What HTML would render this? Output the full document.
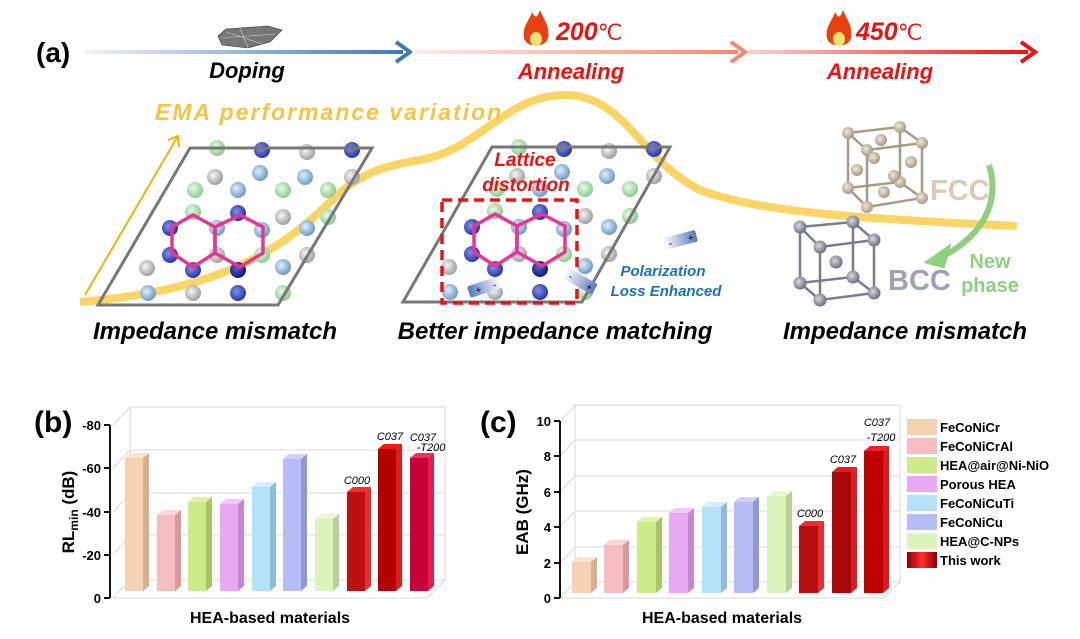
<!DOCTYPE html>
<html><head><meta charset="utf-8"><style>
html,body{margin:0;padding:0;background:#fff;}
svg{display:block;}
text{font-family:"Liberation Sans",sans-serif;}
.bi{font-weight:bold;font-style:italic;}
.b{font-weight:bold;}
</style></head><body>
<svg width="1080" height="639" viewBox="0 0 1080 639" xmlns="http://www.w3.org/2000/svg">
<defs>
<linearGradient id="g1" x1="0" x2="1"><stop offset="0" stop-color="#eef2f8"/><stop offset="1" stop-color="#3f78b8"/></linearGradient>
<linearGradient id="g2" x1="0" x2="1"><stop offset="0" stop-color="#fbeaea"/><stop offset="1" stop-color="#f68a6a"/></linearGradient>
<linearGradient id="g3" x1="0" x2="1"><stop offset="0" stop-color="#fbd0d0"/><stop offset="1" stop-color="#f01010"/></linearGradient>
<radialGradient id="ab" cx="0.4" cy="0.4" r="0.6"><stop offset="0" stop-color="#8090e8"/><stop offset="1" stop-color="#2836a8"/></radialGradient>
<radialGradient id="ad" cx="0.4" cy="0.4" r="0.6"><stop offset="0" stop-color="#5060c8"/><stop offset="1" stop-color="#0a1a80"/></radialGradient>
<radialGradient id="al" cx="0.4" cy="0.4" r="0.6"><stop offset="0" stop-color="#e0f0ff"/><stop offset="1" stop-color="#6e9cc0"/></radialGradient>
<radialGradient id="ag" cx="0.4" cy="0.4" r="0.6"><stop offset="0" stop-color="#eafaea"/><stop offset="1" stop-color="#8ccc8c"/></radialGradient>
<radialGradient id="ay" cx="0.4" cy="0.4" r="0.6"><stop offset="0" stop-color="#f6f6f6"/><stop offset="1" stop-color="#a0a0a0"/></radialGradient>
<radialGradient id="at" cx="0.4" cy="0.4" r="0.6"><stop offset="0" stop-color="#efe8dc"/><stop offset="1" stop-color="#a89a84"/></radialGradient>
<radialGradient id="ak" cx="0.4" cy="0.4" r="0.6"><stop offset="0" stop-color="#d8dae0"/><stop offset="1" stop-color="#6c7080"/></radialGradient>
<linearGradient id="dip" x1="0" x2="1"><stop offset="0" stop-color="#fff"/><stop offset="1" stop-color="#5a78c0"/></linearGradient>
<linearGradient id="tw" x1="0" x2="1"><stop offset="0" stop-color="#8a0000"/><stop offset="0.5" stop-color="#ff3030"/><stop offset="1" stop-color="#8a0000"/></linearGradient>
<g id="lat">
 <g stroke="none">
 <circle cx="217" cy="148" r="8" fill="url(#ag)"/><circle cx="262" cy="150" r="8" fill="url(#ab)"/><circle cx="307" cy="152" r="8" fill="url(#ay)"/><circle cx="352" cy="150" r="8" fill="url(#ab)"/>
 <circle cx="215" cy="177" r="8" fill="url(#ay)"/><circle cx="260" cy="173" r="8" fill="url(#al)"/><circle cx="305" cy="177" r="8" fill="url(#al)"/><circle cx="352" cy="177" r="8" fill="url(#ay)"/>
 <circle cx="195" cy="190" r="8" fill="url(#ag)"/><circle cx="238" cy="190" r="8" fill="url(#al)"/><circle cx="283" cy="190" r="8" fill="url(#ag)"/><circle cx="328" cy="190" r="8" fill="url(#ag)"/>
 <circle cx="193" cy="212" r="8" fill="url(#ag)"/><circle cx="238" cy="213" r="8" fill="url(#ab)"/><circle cx="283" cy="217" r="8" fill="url(#ay)"/><circle cx="328" cy="217" r="8" fill="url(#ag)"/>
 <circle cx="170" cy="228" r="8" fill="url(#ab)"/><circle cx="217" cy="228" r="8" fill="url(#al)"/><circle cx="262" cy="230" r="8" fill="url(#al)"/><circle cx="307" cy="228" r="8" fill="url(#al)"/>
 <circle cx="170" cy="255" r="8" fill="url(#ab)"/><circle cx="217" cy="255" r="8" fill="url(#ay)"/><circle cx="262" cy="255" r="8" fill="url(#ag)"/><circle cx="307" cy="255" r="8" fill="url(#ay)"/>
 <circle cx="147" cy="268" r="8" fill="url(#ay)"/><circle cx="193" cy="270" r="8" fill="url(#ab)"/><circle cx="238" cy="270" r="8" fill="url(#ad)"/><circle cx="283" cy="267" r="8" fill="url(#al)"/>
 <circle cx="148" cy="293" r="8" fill="url(#al)"/><circle cx="193" cy="293" r="8" fill="url(#ay)"/><circle cx="238" cy="293" r="8" fill="url(#ab)"/><circle cx="283" cy="293" r="8" fill="url(#ag)"/>
 </g>
 <g fill="none" stroke="#ea3590" stroke-width="3.5">
 <polygon points="193,215 215,227 215,253 193,267 172,253 172,227"/>
 <polygon points="240,215 263,227 263,253 240,267 215,253 215,227"/>
 </g>
</g>
<g id="atT"><circle r="6" fill="url(#at)"/></g>
<g id="atK"><circle r="6.5" fill="url(#ak)"/></g>
</defs>

<text x="36" y="62" class="b" font-size="28">(a)</text>
<rect x="85" y="50" width="318" height="4" fill="url(#g1)"/>
<path d="M396,42 L410,52 L396,62" fill="none" stroke="#3f78b8" stroke-width="4"/>
<rect x="412" y="50" width="326" height="4" fill="url(#g2)"/>
<path d="M731,42 L745,52 L731,62" fill="none" stroke="#f68a6a" stroke-width="4"/>
<rect x="748" y="50" width="280" height="4" fill="url(#g3)"/>
<path d="M1021,42 L1035,52 L1021,62" fill="none" stroke="#f01010" stroke-width="4"/>
<path d="M218,36 L226,29 L268,26 L282,30 L270,42 L248,48 L222,45 Z" fill="#777" stroke="#333" stroke-width="0.6"/>
<path d="M222,38 L275,34 M226,32 L262,44 M240,28 L248,48" stroke="#ccc" stroke-width="0.6"/>
<text x="247" y="78" class="bi" font-size="22" text-anchor="middle">Doping</text>
<g transform="translate(536,30)"><path d="M-12,8 C-14,-4 -6,-10 -4,-18 C0,-10 2,-14 4,-20 C8,-10 14,-4 12,8 C10,18 -10,18 -12,8 Z" fill="#e84010"/><ellipse cx="0" cy="9" rx="6" ry="7" fill="#ffe070"/></g>
<g transform="translate(839,30)"><path d="M-12,8 C-14,-4 -6,-10 -4,-18 C0,-10 2,-14 4,-20 C8,-10 14,-4 12,8 C10,18 -10,18 -12,8 Z" fill="#e84010"/><ellipse cx="0" cy="9" rx="6" ry="7" fill="#ffe070"/></g>
<text x="556" y="40" class="bi" font-size="25" fill="#f01010">200<tspan font-size="22" font-weight="normal" font-style="normal">℃</tspan></text>
<text x="856" y="40" class="bi" font-size="25" fill="#f01010">450<tspan font-size="22" font-weight="normal" font-style="normal">℃</tspan></text>
<text x="571" y="79" class="bi" font-size="22" fill="#f01010" text-anchor="middle">Annealing</text>
<text x="880" y="79" class="bi" font-size="22" fill="#f01010" text-anchor="middle">Annealing</text>
<text x="155" y="120" class="bi" font-size="23" fill="#f5c440" letter-spacing="2">EMA performance variation</text>

<path d="M80,302 C200,292 270,262 330,202 C360,172 385,166 420,160 C480,150 505,95 565,95 C625,95 640,160 700,190 C760,212 850,218 1017,226" fill="none" stroke="#f8c630" stroke-width="8" stroke-opacity="0.75"/>
<path d="M85,295 L178,136 M168,140 L178,136 L179,147" fill="none" stroke="#f5b000" stroke-width="2"/>

<use href="#lat"/>
<polygon points="190,148 372,148 278,305 98,305" fill="none" stroke="#777" stroke-width="3"/>
<use href="#lat" transform="translate(302,-1)"/>
<polygon points="492,147 670,147 582,302 403,302" fill="none" stroke="#777" stroke-width="3"/>
<rect x="442" y="200" width="135" height="103" fill="none" stroke="#f01010" stroke-width="3.5" stroke-dasharray="10,6"/>
<text x="525" y="166" class="bi" font-size="19" fill="#f01010" text-anchor="middle">Lattice</text>
<text x="526" y="191" class="bi" font-size="19" fill="#f01010" text-anchor="middle">distortion</text>
<g transform="translate(485,287) rotate(-18)"><rect x="-17" y="-6" width="34" height="12" rx="2" fill="url(#dip)" transform="scale(-1,1)"/><text x="-10" y="4" font-size="10">+</text><text x="8" y="4" font-size="10">-</text></g>
<g transform="translate(580,281) rotate(30)"><rect x="-17" y="-6" width="34" height="12" rx="2" fill="url(#dip)"/><text x="-12" y="4" font-size="10">-</text><text x="8" y="4" font-size="10">+</text></g>
<g transform="translate(680,240) rotate(-15)"><rect x="-17" y="-6" width="34" height="12" rx="2" fill="url(#dip)"/><text x="-12" y="4" font-size="10">-</text><text x="8" y="4" font-size="10">+</text></g>
<text x="663" y="276" class="bi" font-size="15" fill="#1a70c0" text-anchor="middle">Polarization</text>
<text x="666" y="296" class="bi" font-size="15" fill="#1a70c0" text-anchor="middle">Loss Enhanced</text>

<g stroke="#a89a84" stroke-width="2.5" fill="none">
<polygon points="848,133 900,127 900,182 848,188"/>
<polygon points="867,150 922,143 922,198 867,207"/>
<path d="M848,133 L867,150 M900,127 L922,143 M900,182 L922,198 M848,188 L867,207"/>
</g>
<g>
<use href="#atT" x="848" y="133"/><use href="#atT" x="900" y="127"/><use href="#atT" x="900" y="182"/><use href="#atT" x="848" y="188"/>
<use href="#atT" x="867" y="150"/><use href="#atT" x="922" y="143"/><use href="#atT" x="922" y="198"/><use href="#atT" x="867" y="207"/>
<use href="#atT" x="881" y="140"/><use href="#atT" x="857" y="170"/><use href="#atT" x="911" y="162"/><use href="#atT" x="884" y="192"/><use href="#atT" x="894" y="176"/><use href="#atT" x="874" y="158"/>
</g>
<text x="930" y="200" class="b" font-size="29" fill="#d9cbb6">FCC</text>
<g stroke="#7a7e8a" stroke-width="2.5" fill="none">
<polygon points="800,227 853,222 853,277 800,283"/>
<polygon points="820,247 874,240 874,293 820,300"/>
<path d="M800,227 L820,247 M853,222 L874,240 M853,277 L874,293 M800,283 L820,300"/>
</g>
<use href="#atK" x="800" y="227"/><use href="#atK" x="853" y="222"/><use href="#atK" x="853" y="277"/><use href="#atK" x="800" y="283"/>
<use href="#atK" x="820" y="247"/><use href="#atK" x="874" y="240"/><use href="#atK" x="874" y="293"/><use href="#atK" x="820" y="300"/>
<use href="#atK" x="836" y="262"/>
<text x="888" y="290" class="b" font-size="29" fill="#9ca2b4">BCC</text>
<path d="M989,165 C1000,200 985,235 940,258" fill="none" stroke="#8ed080" stroke-width="6"/>
<path d="M928,262 L948,248 L943,266 Z" fill="#8ed080" stroke="#8ed080" stroke-width="4"/>
<text x="990" y="268" class="b" font-size="20" fill="#8ed080" text-anchor="middle">New</text>
<text x="990" y="292" class="b" font-size="20" fill="#8ed080" text-anchor="middle">phase</text>

<text x="215" y="339" class="bi" font-size="24" text-anchor="middle">Impedance mismatch</text>
<text x="555" y="339" class="bi" font-size="24" text-anchor="middle">Better impedance matching</text>
<text x="905" y="339" class="bi" font-size="24" text-anchor="middle">Impedance mismatch</text>

<text x="34" y="432" class="b" font-size="30">(b)</text>
<g fill="none" stroke="#d8d8d8" stroke-width="1">
<path d="M130,407 L445,407 L445,580 M130,407 L130,580 L445,580 M113,598 L130,580 M427,598 L445,580 M113,598 L427,598"/>
<path d="M130,450 L445,450 M130,493 L445,493 M130,535 L445,535 M113,425 L130,407 M113,468 L130,450 M113,512 L130,493 M113,555 L130,535"/>
</g>
<path d="M110,425 L110,598 M104,425 L110,425 M104,468 L110,468 M104,512 L110,512 M104,555 L110,555 M104,598 L110,598" stroke="#111" stroke-width="2"/>
<g class="b" font-size="13" text-anchor="end">
<text x="101" y="430">-80</text><text x="101" y="473">-60</text><text x="101" y="517">-40</text><text x="101" y="560">-20</text><text x="101" y="603">0</text>
</g>
<text transform="translate(74,512) rotate(-90)" class="b" font-size="17" text-anchor="middle">RL<tspan font-size="12" dy="4">min</tspan><tspan dy="-4"> (dB)</tspan></text>
<text x="270" y="623" class="b" font-size="16" text-anchor="middle">HEA-based materials</text>

<text x="480" y="432" class="b" font-size="30">(c)</text>
<g fill="none" stroke="#d8d8d8" stroke-width="1">
<path d="M575,405 L900,405 L900,582 M575,405 L575,582 L900,582 M560,598 L575,582 M883,598 L900,582 M560,598 L883,598"/>
<path d="M575,440 L900,440 M575,476 L900,476 M575,511 L900,511 M575,547 L900,547 M560,421 L575,405 M560,456 L575,440 M560,492 L575,476 M560,527 L575,511 M560,563 L575,547"/>
</g>
<path d="M560,421 L560,598 M554,421 L560,421 M554,456 L560,456 M554,492 L560,492 M554,527 L560,527 M554,563 L560,563 M554,598 L560,598" stroke="#111" stroke-width="2"/>
<g class="b" font-size="13" text-anchor="end">
<text x="551" y="426">10</text><text x="551" y="461">8</text><text x="551" y="497">6</text><text x="551" y="532">4</text><text x="551" y="568">2</text><text x="551" y="603">0</text>
</g>
<text transform="translate(528,512) rotate(-90)" class="b" font-size="17" text-anchor="middle">EAB (GHz)</text>
<text x="722" y="623" class="b" font-size="16" text-anchor="middle">HEA-based materials</text>

<g>
<g><rect x="125" y="458" width="18" height="133" fill="#f6d2b2"/><polygon points="143,458 149,453 149,586 143,591" fill="#d8b090"/><polygon points="125,458 131,453 149,453 143,458" fill="#fae2cc"/></g>
<g><rect x="157" y="515" width="18" height="76" fill="#f7bcc0"/><polygon points="175,515 181,510 181,586 175,591" fill="#d8999d"/><polygon points="157,515 163,510 181,510 175,515" fill="#fbd4d6"/></g>
<g><rect x="188" y="502" width="18" height="89" fill="#cdea8a"/><polygon points="206,502 212,497 212,586 206,591" fill="#a8c468"/><polygon points="188,502 194,497 212,497 206,502" fill="#def3aa"/></g>
<g><rect x="220" y="504" width="18" height="87" fill="#e8a8f4"/><polygon points="238,504 244,499 244,586 238,591" fill="#c488d0"/><polygon points="220,504 226,499 244,499 238,504" fill="#f2c8f8"/></g>
<g><rect x="252" y="487" width="18" height="104" fill="#b6e2f8"/><polygon points="270,487 276,482 276,586 270,591" fill="#90bcd4"/><polygon points="252,487 258,482 276,482 270,487" fill="#d0eefc"/></g>
<g><rect x="283" y="459" width="18" height="132" fill="#b5bcf6"/><polygon points="301,459 307,454 307,586 301,591" fill="#9098d4"/><polygon points="283,459 289,454 307,454 301,459" fill="#ccd0fa"/></g>
<g><rect x="315" y="519" width="18" height="72" fill="#dcf3bc"/><polygon points="333,519 339,514 339,586 333,591" fill="#b8d098"/><polygon points="315,519 321,514 339,514 333,519" fill="#ebf8d6"/></g>
<g><rect x="347" y="492" width="18" height="99" fill="#be1010"/><polygon points="365,492 371,487 371,586 365,591" fill="#e03030"/><polygon points="347,492 353,487 371,487 365,492" fill="#f03030"/></g>
<g><rect x="378" y="449" width="18" height="142" fill="#b30000"/><polygon points="396,449 402,444 402,586 396,591" fill="#d82020"/><polygon points="378,449 384,444 402,444 396,449" fill="#f01818"/></g>
<g><rect x="410" y="458" width="18" height="133" fill="#c80038"/><polygon points="428,458 434,453 434,586 428,591" fill="#e0204a"/><polygon points="410,458 416,453 434,453 428,458" fill="#f03058"/></g>
</g>
<g font-size="11" font-style="italic">
<text x="357" y="484" text-anchor="middle">C000</text>
<text x="390" y="440" text-anchor="middle">C037</text>
<text x="423" y="441" text-anchor="middle">C037</text>
<text x="431" y="451" text-anchor="middle">-T200</text>
</g>

<g><rect x="572" y="562" width="19" height="31" fill="#f6d2b2"/><polygon points="591,562 597,557 597,588 591,593" fill="#d8b090"/><polygon points="572,562 578,557 597,557 591,562" fill="#fae2cc"/></g>
<g><rect x="604" y="545" width="19" height="48" fill="#f7bcc0"/><polygon points="623,545 629,540 629,588 623,593" fill="#d8999d"/><polygon points="604,545 610,540 629,540 623,545" fill="#fbd4d6"/></g>
<g><rect x="637" y="522" width="19" height="71" fill="#cdea8a"/><polygon points="656,522 662,517 662,588 656,593" fill="#a8c468"/><polygon points="637,522 643,517 662,517 656,522" fill="#def3aa"/></g>
<g><rect x="669" y="513" width="19" height="80" fill="#e8a8f4"/><polygon points="688,513 694,508 694,588 688,593" fill="#c488d0"/><polygon points="669,513 675,508 694,508 688,513" fill="#f2c8f8"/></g>
<g><rect x="702" y="507" width="19" height="86" fill="#b6e2f8"/><polygon points="721,507 727,502 727,588 721,593" fill="#90bcd4"/><polygon points="702,507 708,502 727,502 721,507" fill="#d0eefc"/></g>
<g><rect x="734" y="502" width="19" height="91" fill="#b5bcf6"/><polygon points="753,502 759,497 759,588 753,593" fill="#9098d4"/><polygon points="734,502 740,497 759,497 753,502" fill="#ccd0fa"/></g>
<g><rect x="767" y="496" width="19" height="97" fill="#dcf3bc"/><polygon points="786,496 792,491 792,588 786,593" fill="#b8d098"/><polygon points="767,496 773,491 792,491 786,496" fill="#ebf8d6"/></g>
<g><rect x="799" y="526" width="19" height="67" fill="#b81010"/><polygon points="818,526 824,521 824,588 818,593" fill="#e03030"/><polygon points="799,526 805,521 824,521 818,526" fill="#f03030"/></g>
<g><rect x="832" y="472" width="19" height="121" fill="#a80808"/><polygon points="851,472 857,467 857,588 851,593" fill="#d82020"/><polygon points="832,472 838,467 857,467 851,472" fill="#f01818"/></g>
<g><rect x="864" y="451" width="19" height="142" fill="#bf0000"/><polygon points="883,451 889,446 889,588 883,593" fill="#e01818"/><polygon points="864,451 870,446 889,446 883,451" fill="#f02020"/></g>
<g font-size="11" font-style="italic">
<text x="810" y="517" text-anchor="middle">C000</text>
<text x="843" y="463" text-anchor="middle">C037</text>
<text x="877" y="426" text-anchor="middle">C037</text>
<text x="881" y="441" text-anchor="middle">-T200</text>
</g>

<g class="b" font-size="13">
<rect x="907" y="419" width="30" height="16" fill="#f6d2b2"/><text x="940" y="432">FeCoNiCr</text>
<rect x="907" y="438" width="30" height="16" fill="#f7bcc0"/><text x="940" y="451">FeCoNiCrAl</text>
<rect x="907" y="457" width="30" height="16" fill="#cdea8a"/><text x="940" y="470">HEA@air@Ni-NiO</text>
<rect x="907" y="476" width="30" height="16" fill="#e8a8f4"/><text x="940" y="489">Porous HEA</text>
<rect x="907" y="495" width="30" height="16" fill="#b6e2f8"/><text x="940" y="508">FeCoNiCuTi</text>
<rect x="907" y="514" width="30" height="16" fill="#b5bcf6"/><text x="940" y="527">FeCoNiCu</text>
<rect x="907" y="533" width="30" height="16" fill="#dcf3bc"/><text x="940" y="546">HEA@C-NPs</text>
<rect x="907" y="552" width="30" height="16" fill="url(#tw)"/><text x="940" y="565">This work</text>
</g>
</svg>
</body></html>
